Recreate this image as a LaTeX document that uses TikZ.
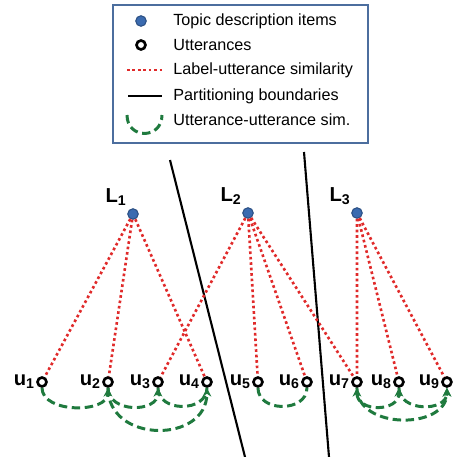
\documentclass[tikz,border=0pt]{standalone}
\usepackage{fontspec}
\setmainfont{Liberation Sans}
\usetikzlibrary{arrows.meta, positioning}
\definecolor{topicblue}{HTML}{3B6BB0}
\definecolor{simred}{HTML}{E02A2A}
\definecolor{simgreen}{HTML}{1F7A3E}
\definecolor{legendframe}{HTML}{4C6E9E}
\tikzstyle{topic}=[circle,fill=topicblue,draw=topicblue!75!black,line width=0.6pt,inner sep=0pt,minimum size=0.21cm]
\tikzstyle{utt}=[circle,draw=black,line width=1.5pt,fill=white,inner sep=0pt,minimum size=0.18cm]
\tikzstyle{lblsim}=[draw=simred,line width=1.5pt,dash pattern=on 1.5pt off 1.6pt]
\tikzstyle{uusim}=[draw=simgreen,line width=1.7pt,dash pattern=on 4.8pt off 2.6pt]
\tikzstyle{boundary}=[draw=black,line width=1.2pt]
\tikzstyle{nodelabel}=[font=\fontsize{11.5}{13}\selectfont\bfseries,inner sep=0.5pt]
\tikzstyle{legendtext}=[font=\fontsize{9.2}{11}\selectfont,anchor=west,inner sep=0pt]

\begin{document}
\begin{tikzpicture}[x=0.02cm,y=-0.02cm,>={Stealth[length=5pt,width=5pt]},on grid]
    \useasboundingbox (0,0) rectangle (454,457);

    % legend
    \draw[legendframe,line width=1.4pt,fill=white] (113,5) rectangle (368,143);
    \node[topic] (legtopic) at (141,21) {};
    \node[utt] (legutt) at (141,45) {};
    \coordinate (legreda) at (127,70);
    \coordinate (legredb) at (162,70);
    \coordinate (legbnda) at (128,96);
    \coordinate (legbndb) at (162,96);
    \coordinate (leggrna) at (127,115);
    \coordinate (leggrnb) at (162,115);
    \draw[lblsim] (legreda) -- (legredb);
    \draw[boundary] (legbnda) -- (legbndb);
    \draw[uusim] (leggrna) to[out=-90,in=-90,looseness=1.8] (leggrnb);
    \node[legendtext] (legt1) at (173,21) {Topic description items};
    \node[legendtext] (legt2) at (173,45) {Utterances};
    \node[legendtext] (legt3) at (173,70) {Label-utterance similarity};
    \node[legendtext] (legt4) at (173,96) {Partitioning boundaries};
    \node[legendtext] (legt5) at (173,120) {Utterance-utterance sim.};

    % partitioning boundaries
    \coordinate (bnd1a) at (170,160);
    \coordinate (bnd1b) at (245,457);
    \coordinate (bnd2a) at (304,152);
    \coordinate (bnd2b) at (329,457);
    \draw[boundary] (bnd1a) -- (bnd1b);
    \draw[boundary] (bnd2a) -- (bnd2b);

    % topic description items
    \node[topic] (L1) at (133,214) {};
    \node[topic] (L2) at (248,213) {};
    \node[topic] (L3) at (357,213) {};
    \node[nodelabel,anchor=south east] (L1lab) at ([xshift=-0.02cm,yshift=0.06cm]L1.north west) {L\textsubscript{1}};
    \node[nodelabel,anchor=south east] (L2lab) at ([xshift=-0.02cm,yshift=0.06cm]L2.north west) {L\textsubscript{2}};
    \node[nodelabel,anchor=south east] (L3lab) at ([xshift=-0.02cm,yshift=0.06cm]L3.north west) {L\textsubscript{3}};

    % utterances
    \node[utt] (u1) at (42,382) {};
    \node[utt,right=1.32cm of u1] (u2) {};
    \node[utt,right=1.0cm of u2] (u3) {};
    \node[utt,right=0.98cm of u3] (u4) {};
    \node[utt,right=1.02cm of u4] (u5) {};
    \node[utt,right=0.98cm of u5] (u6) {};
    \node[utt,right=1.0cm of u6] (u7) {};
    \node[utt,right=0.84cm of u7] (u8) {};
    \node[utt,right=0.96cm of u8] (u9) {};
    \foreach \i in {1,...,9}
        \node[nodelabel,anchor=east] (u\i lab) at (u\i.west) {u\textsubscript{\i}};

    % label-utterance similarity
    \foreach \u in {u1,u2,u4}
        \draw[lblsim] (L1) -- (\u);
    \foreach \u in {u3,u5,u6,u7}
        \draw[lblsim] (L2) -- (\u);
    \foreach \u in {u7,u8,u9}
        \draw[lblsim] (L3) -- (\u);

    % utterance-utterance similarity
    \draw[uusim,->] (u1.south) to[out=-90,in=-90,looseness=1] (u2.south);
    \draw[uusim,->] (u2.south) to[out=-90,in=-90,looseness=1.3] (u3.south);
    \draw[uusim] (u3.south) to[out=-90,in=-90,looseness=1.3] (u4.south);
    \draw[uusim,->] (u2.south) to[out=-90,in=-90,looseness=1.45] (u4.south);
    \draw[uusim] (u5.south) to[out=-90,in=-90,looseness=1.3] (u6.south);
    \draw[uusim,<->] (u7.south) to[out=-90,in=-90,looseness=1.5] (u8.south);
    \draw[uusim,->] (u8.south) to[out=-90,in=-90,looseness=1.3] (u9.south);
    \draw[uusim,->] (u7.south) to[out=-90,in=-90,looseness=1.2] (u9.south);
\end{tikzpicture}
\end{document}
